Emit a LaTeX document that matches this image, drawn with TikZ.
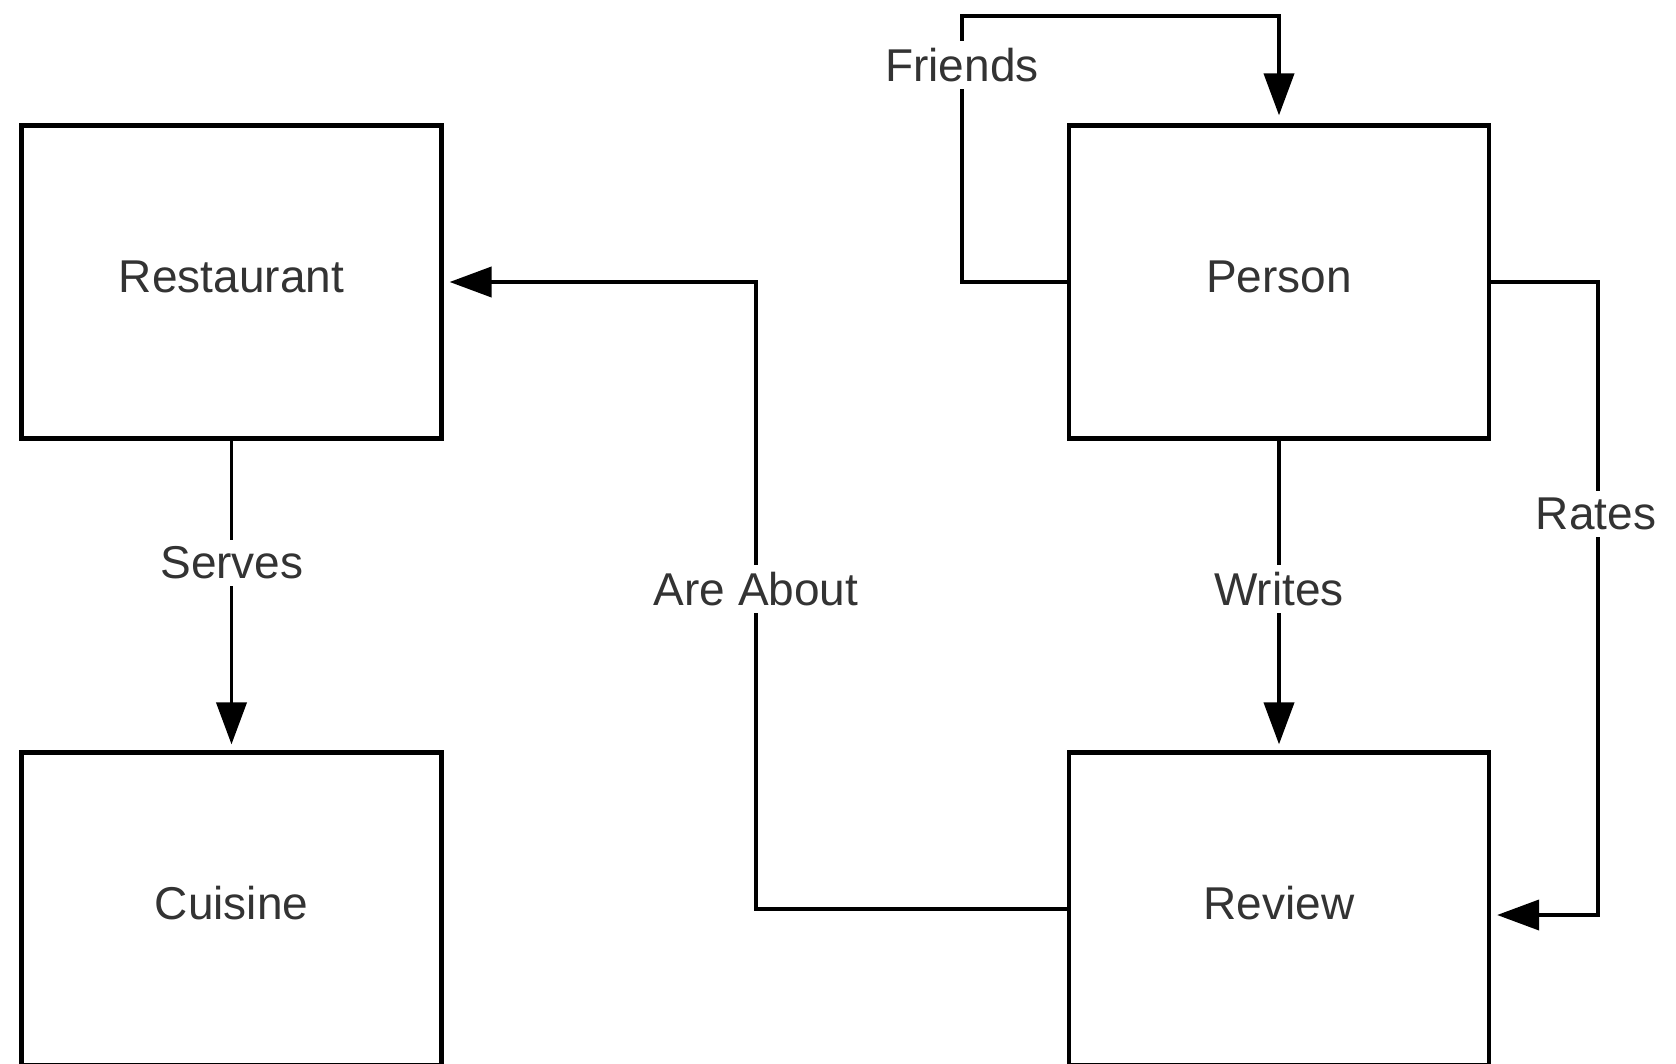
\documentclass[tikz,border=0pt]{standalone}
\usepackage{fontspec}
\setmainfont{Liberation Sans}
\usetikzlibrary{arrows.meta}
\begin{document}
\begin{tikzpicture}[x=1pt,y=-1pt,
  entity/.style={draw=black,line width=4.2pt,minimum width=420pt,minimum height=313pt,
    inner sep=0pt,text height=34pt,text depth=13pt,
    text=black!80,font=\fontsize{46}{55}\selectfont},
  conn/.style={draw=black,line width=3.9pt,
    -{Triangle[length=42pt,width=30pt]},shorten >=6pt},
  lbl/.style={fill=white,inner sep=7pt,text=black!80,font=\fontsize{46}{55}\selectfont}]
  \useasboundingbox (0,0) rectangle (1676,1064);
  \fill[white] (0,0) rectangle (1676,1064);

  % entities
  \node[entity] (restaurant) at (231.5,282) {Restaurant};
  \node[entity] (cuisine)    at (231.5,909) {Cuisine};
  \node[entity] (person)     at (1279,282)  {Person};
  \node[entity] (review)     at (1279,909)  {Review};

  % bend points
  \coordinate (fr) at (962,16);
  \coordinate (ab) at (756,282);
  \coordinate (rt) at (1598,282);

  % relationships
  \draw[conn] (restaurant.south) -- (cuisine.north);
  \draw[conn] (person.south) -- (review.north);
  \draw[conn,shorten >=8pt] (person.west) -| (fr) -| (person.north);
  \draw[conn] (review.west) -| (ab) -- (restaurant.east);
  \draw[conn] (person.east) -- (rt) |- ([yshift=-6pt]review.east);

  % relationship labels
  \node[lbl] (lserves)  at (232,563)  {Serves};
  \node[lbl] (labout)   at (756,589)  {Are About};
  \node[lbl] (lwrites)  at (1279,589) {Writes};
  \node[lbl] (lrates)   at (1596,514) {Rates};
  \node[lbl] (lfriends) at (962,65)   {Friends};
\end{tikzpicture}
\end{document}
